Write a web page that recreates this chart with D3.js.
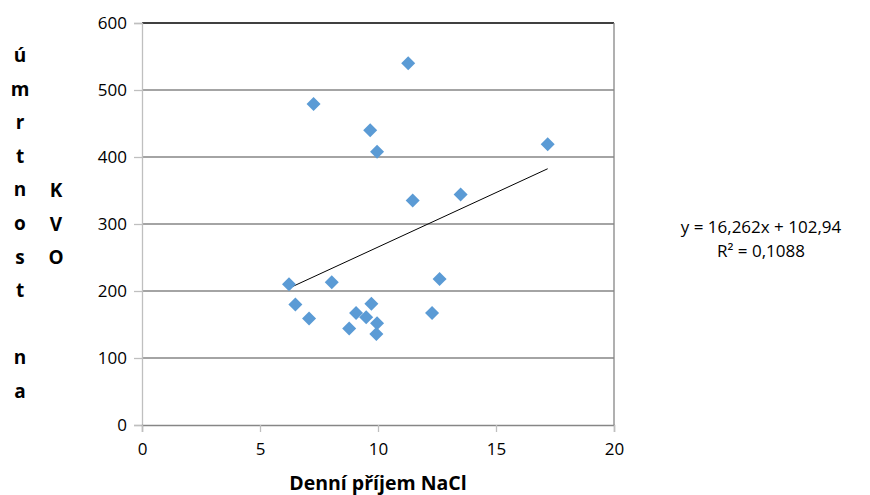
<!DOCTYPE html>
<html>
<head>
<meta charset="utf-8">
<script src="https://cdn.jsdelivr.net/npm/d3@7"></script>
<style>
  body { margin: 0; background: #fff; }
  svg text { font-family: "Open Sans", "Liberation Sans", sans-serif; fill: #000; }
</style>
</head>
<body>
<svg id="chart" width="870" height="495"></svg>
<script>
// daily NaCl intake vs. cardiovascular mortality
var salt = [6.23, 8.04, 6.50, 7.08, 8.78, 9.07, 9.50, 9.72, 9.96, 9.93,
            11.28, 7.27, 9.67, 9.96, 17.19, 11.47, 13.50, 12.61, 12.29];
var mortality = [210, 213, 180, 159, 144, 167, 161, 181, 152, 136,
                 540, 479, 440, 408, 419, 335, 344, 218, 167];
var xTicks = [0, 5, 10, 15, 20];
var yTicks = [0, 100, 200, 300, 400, 500, 600];
var slope = 16.262, intercept = 102.94;
var eqLines = ["y = 16,262x + 102,94", "R\u00B2 = 0,1088"];
var yTitleCols = ["úmrtnost na", "KVO"];
var xTitle = "Denní příjem NaCl";

var svg = d3.select("#chart");
var plotL = 142, plotR = 614, plotT = 23, plotB = 425;

var x = d3.scaleLinear().domain([0, 20]).range([plotL, plotR]);
var y = d3.scaleLinear().domain([0, 600]).range([plotB, plotT]);

//gridlines
svg.append("g")
  .selectAll("line")
  .data(yTicks.filter(function(d) { return d > 0; }))
  .join("line")
  .attr("x1", plotL).attr("x2", plotR)
  .attr("y1", function(d) { return y(d); })
  .attr("y2", function(d) { return y(d); })
  .attr("stroke", function(d) { return d == 600 ? "#000" : "#868686"; })
  .attr("stroke-width", 1.3);

//right border
svg.append("line")
  .attr("x1", plotR).attr("x2", plotR).attr("y1", plotT).attr("y2", plotB)
  .attr("stroke", "#868686").attr("stroke-width", 1.3);

//axes
var yAxis = svg.append("g")
  .attr("transform", "translate(" + plotL + ",0)")
  .call(d3.axisLeft(y).tickValues(yTicks).tickSize(8).tickPadding(7));
var xAxis = svg.append("g")
  .attr("transform", "translate(0," + plotB + ")")
  .call(d3.axisBottom(x).tickValues(xTicks).tickSize(7).tickPadding(11));

[yAxis, xAxis].forEach(function(a) {
  a.selectAll("path").attr("stroke", "#bfbfbf").attr("stroke-width", 1.3);
  a.selectAll("line").attr("stroke", "#bfbfbf").attr("stroke-width", 1.3);
  a.selectAll("text").style("font-size", "17px").attr("fill", "#222");
});
xAxis.select(".domain").attr("stroke", "#868686");

//trendline
var xMin = d3.min(salt), xMax = d3.max(salt);
svg.append("line")
  .attr("x1", x(xMin)).attr("y1", y(slope * xMin + intercept))
  .attr("x2", x(xMax)).attr("y2", y(slope * xMax + intercept))
  .attr("stroke", "#000").attr("stroke-width", 1);

//points
svg.append("g")
  .selectAll("path")
  .data(d3.range(salt.length))
  .join("path")
  .attr("d", d3.symbol().type(d3.symbolDiamond2).size(125))
  .attr("transform", function(i) {
    return "translate(" + x(salt[i]) + "," + y(mortality[i]) + ")";
  })
  .attr("fill", "#5b9bd5");

//equation
svg.append("g")
  .selectAll("text")
  .data(eqLines)
  .join("text")
  .attr("x", 761)
  .attr("y", function(d, i) { return 233 + i * 24; })
  .attr("text-anchor", "middle")
  .style("font-size", "17px")
  .text(function(d) { return d; });

//x title
svg.append("text")
  .attr("x", 378).attr("y", 490)
  .attr("text-anchor", "middle")
  .style("font-size", "19.5px").style("font-weight", "bold")
  .text(xTitle);

//stacked y title
var colX = [20, 56], colStart = [62, 197];
yTitleCols.forEach(function(s, c) {
  svg.append("g")
    .selectAll("text")
    .data(s.split(""))
    .join("text")
    .attr("x", colX[c])
    .attr("y", function(d, i) { return colStart[c] + i * 33.6; })
    .attr("text-anchor", "middle")
    .style("font-size", "19px").style("font-weight", "bold")
    .text(function(d) { return d; });
});
</script>
</body>
</html>
